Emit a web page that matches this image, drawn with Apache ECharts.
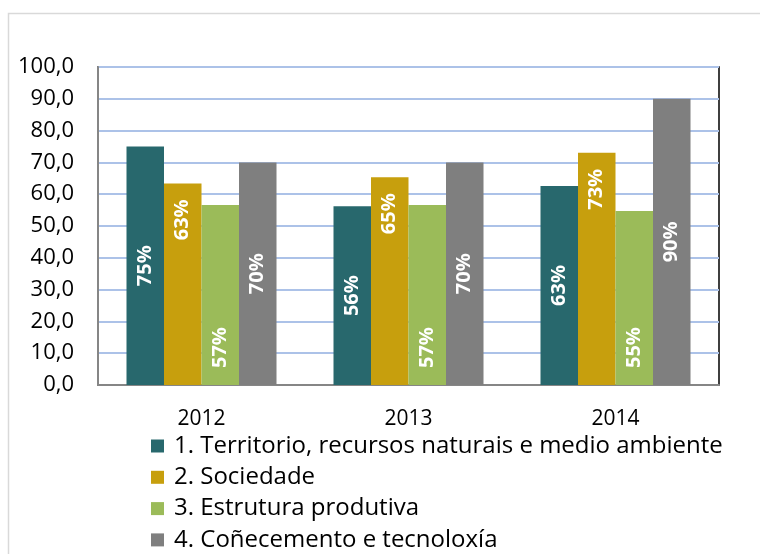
<!DOCTYPE html>
<html>
<head>
<meta charset="utf-8">
<script src="https://cdn.jsdelivr.net/npm/echarts@6/dist/echarts.min.js"></script>
<style>
  html, body { margin: 0; padding: 0; background: #fff; }
  #chart { width: 760px; height: 554px; }
</style>
</head>
<body>
<div id="chart"></div>
<script>
// datos
var anos = ['2012', '2013', '2014'];
var nomes = [
  '1. Territorio, recursos naturais e medio ambiente',
  '2. Sociedade',
  '3. Estrutura produtiva',
  '4. Coñecemento e tecnoloxía'
];
var territorio = [75.0, 56.2, 62.6];
var sociedade = [63.4, 65.3, 73.0];
var estrutura = [56.6, 56.6, 54.7];
var conecemento = [70.0, 70.0, 90.0];

var cores = ['#28686d', '#c79f0d', '#9bbb59', '#7f7f7f'];
var fonte = '"Open Sans", sans-serif';

function pct(p) {
  return Math.round(p.value) + '%';
}

// etiqueta dentro da barra, rotada
function etiqueta(pos) {
  var l = {
    show: true,
    rotate: 90,
    color: '#fff',
    fontFamily: fonte,
    fontWeight: 'bold',
    fontSize: 20,
    formatter: pct,
    position: 'inside'
  };
  if (pos == 'top') {
    l.position = 'insideTop';
    l.distance = 16;
    l.align = 'right';
    l.verticalAlign = 'middle';
  }
  if (pos == 'bottom') {
    l.position = 'insideBottom';
    l.distance = 17;
    l.align = 'left';
    l.verticalAlign = 'middle';
  }
  return l;
}

function serie(i, datos, pos) {
  return {
    name: nomes[i],
    type: 'bar',
    data: datos,
    barWidth: 37.5,
    barGap: '0%',
    itemStyle: { color: cores[i] },
    label: etiqueta(pos),
    emphasis: { disabled: true }
  };
}

var option = {
  backgroundColor: '#fff',
  animation: false,
  textStyle: { fontFamily: fonte },
  graphic: [{
    type: 'rect',
    shape: { x: 8.5, y: 13.5, width: 800, height: 600 },
    style: { fill: 'none', stroke: '#d9d9d9', lineWidth: 1.5 },
    silent: true
  }],
  grid: {
    left: 98, right: 41, top: 67, bottom: 169,
    show: true, borderColor: '#000', borderWidth: 1.5, backgroundColor: 'transparent'
  },
  legend: {
    orient: 'vertical',
    left: 151,
    top: 434,
    padding: 0,
    itemWidth: 13,
    itemHeight: 13,
    itemGap: 7.3,
    icon: 'rect',
    selectedMode: false,
    textStyle: { fontFamily: fonte, fontSize: 24, color: '#000', lineHeight: 24, padding: [0, 0, 0, 5] },
    data: nomes
  },
  xAxis: {
    type: 'category',
    data: anos,
    axisLine: { show: true, lineStyle: { color: '#868686', width: 2 } },
    axisTick: { show: false },
    axisLabel: { fontFamily: fonte, fontSize: 21, color: '#000', margin: 24 }
  },
  yAxis: {
    type: 'value',
    min: 0,
    max: 100,
    interval: 10,
    axisLine: { show: true, lineStyle: { color: '#868686', width: 2 } },
    axisTick: { show: false },
    splitLine: { lineStyle: { color: '#acc2e8', width: 2 } },
    axisLabel: {
      fontFamily: fonte,
      fontSize: 22,
      color: '#000',
      margin: 24,
      formatter: function (v) { return v.toFixed(1).replace('.', ','); }
    }
  },
  series: [
    serie(0, territorio, 'middle'),
    serie(1, sociedade, 'top'),
    serie(2, estrutura, 'bottom'),
    serie(3, conecemento, 'middle')
  ]
};

var myChart = echarts.init(document.getElementById('chart'));
myChart.setOption(option);
</script>
</body>
</html>
